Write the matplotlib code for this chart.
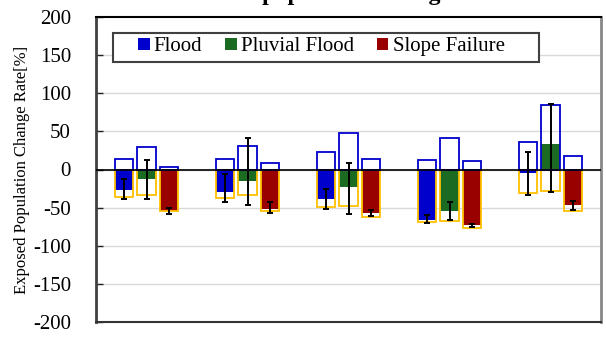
import matplotlib
matplotlib.use("Agg")
import matplotlib.pyplot as plt
import numpy as np
from matplotlib.patches import Patch, Rectangle

plt.rcParams['font.family'] = ['Liberation Serif', 'DejaVu Serif']

series = ["Flood", "Pluvial Flood", "Slope Failure"]
fill_colors = ["#0000CC", "#1B6B22", "#990000"]

flood_mean = [-27, -29, -38.5, -65.6, -5.2]
flood_max = [14.4, 13.5, 22.3, 12.2, 36.3]
flood_min = [-36.7, -37, -49.4, -68.6, -30.6]
flood_err_hi = [-13, -6.5, -26, -60, 23.6]
flood_err_lo = [-38.5, -42.4, -52, -70.4, -33.7]

pluvial_mean = [-12.7, -15, -23, -55, 34]
pluvial_max = [30, 30.6, 48.5, 41, 85.2]
pluvial_min = [-34, -34, -47.5, -67.3, -28.4]
pluvial_err_hi = [12.7, 41, 8.5, -42.8, 86]
pluvial_err_lo = [-38.5, -47, -58, -66.4, -28.9]

slope_mean = [-54, -52, -57.7, -73.4, -46]
slope_max = [3.5, 9, 13.5, 11.8, 18]
slope_min = [-55, -55, -62, -76.5, -54]
slope_err_hi = [-50, -43, -53, -71.3, -40.7]
slope_err_lo = [-58.6, -57, -61, -75.6, -53]

yticks = [-200, -150, -100, -50, 0, 50, 100, 150, 200]

means = [flood_mean, pluvial_mean, slope_mean]
maxs = [flood_max, pluvial_max, slope_max]
mins = [flood_min, pluvial_min, slope_min]
err_his = [flood_err_hi, pluvial_err_hi, slope_err_hi]
err_los = [flood_err_lo, pluvial_err_lo, slope_err_lo]

fig = plt.figure(figsize=(6.06, 3.38), dpi=100)
ax = fig.add_axes([96/606, 1-322/338, 505/606, 305/338])

ax.set_ylim(-200, 200)
ax.set_xlim(-0.5, 4.5)
for t in yticks[1:-1]:
    ax.axhline(t, color="#d9d9d9", lw=1.0, zorder=0)

x = np.arange(len(flood_mean))
offsets = [-0.223, 0.0, 0.223]
w = 0.183
for k in range(3):
    xs = x + offsets[k]
    ax.bar(xs, means[k], width=w, color=fill_colors[k], edgecolor="none", zorder=2)
    ax.bar(xs, mins[k], width=w, facecolor="none", edgecolor="#FFC000", lw=1.3, zorder=3)
    ax.bar(xs, maxs[k], width=w, facecolor="none", edgecolor="#0000CC", lw=1.3, zorder=3)
    m = np.array(means[k], dtype=float)
    hi = np.array(err_his[k], dtype=float)
    lo = np.array(err_los[k], dtype=float)
    ax.errorbar(xs, m, yerr=[m - lo, hi - m], fmt="none", ecolor="black",
                elinewidth=1.4, capsize=2.5, capthick=1.4, zorder=5)

ax.axhline(0, color="black", lw=1.2, zorder=4)

ax.set_yticks(yticks)
ax.set_yticklabels([str(t) for t in yticks], fontsize=15)
ax.tick_params(axis="y", direction="in", length=5, width=1, pad=18, colors="#222222", labelcolor="black")
ax.set_xticks([])

for s, c, lw in [("left", "#404040", 2.0), ("top", "#000000", 1.5),
                 ("right", "#888888", 2.0), ("bottom", "#333333", 1.5)]:
    ax.spines[s].set_color(c)
    ax.spines[s].set_linewidth(lw)

ax.set_ylabel("Exposed Population Change Rate[%]", fontsize=12)
ax.yaxis.set_label_coords(-0.131, 0.5)

handles = [Patch(facecolor=c, edgecolor="none") for c in fill_colors]
leg = ax.legend(handles, series, ncol=3, loc="upper left",
                bbox_to_anchor=((134-96)/505, (322-33)/305),
                frameon=False, fontsize=15, handlelength=0.55, handleheight=0.55,
                handletextpad=0.2, columnspacing=1.1, borderpad=0.2, borderaxespad=0)
frame = Rectangle(((113-96)/505, (322-62)/305), (539-113)/505, 29/305,
                  transform=ax.transAxes, facecolor="white", edgecolor="#404040",
                  lw=1.5, zorder=6)
ax.add_patch(frame)
leg.set_zorder(7)

fig.text(172/606, 1.0, "Relative population change", fontsize=17.3,
         fontweight="bold", ha="left", va="baseline")

fig.savefig("out.png", dpi=100)
